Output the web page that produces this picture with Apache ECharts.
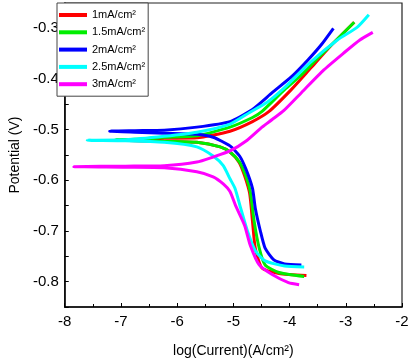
<!DOCTYPE html>
<html>
<head>
<meta charset="utf-8">
<script src="https://cdn.jsdelivr.net/npm/echarts@6/dist/echarts.min.js"></script>
<style>
html, body { margin: 0; padding: 0; background: #fff; }
#chart { width: 412px; height: 363px; }
</style>
</head>
<body>
<div id="chart"></div>
<script>
// legend names
var seriesNames = ['1mA/cm²', '1.5mA/cm²', '2mA/cm²', '2.5mA/cm²', '3mA/cm²'];
var seriesColors = ['#ff0000', '#00ee00', '#0000ff', '#00ffff', '#ff00ff'];

// [log(i), E] pairs, cathodic end -> tip -> anodic end
var curve1 = [
  [-3.70,-0.788],[-4.19,-0.784],[-4.49,-0.773],[-4.61,-0.734],[-4.66,-0.681],[-4.71,-0.626],
  [-4.80,-0.591],[-4.90,-0.564],[-5.06,-0.544],[-5.235,-0.534],[-5.65,-0.525],[-6.23,-0.523],
  [-6.9,-0.521],
  [-6.23,-0.517],[-5.65,-0.516],[-5.06,-0.503],[-4.66,-0.484],[-4.365,-0.464],
  [-3.97,-0.421],[-3.62,-0.378],[-3.27,-0.335],[-2.85,-0.288]
];
var curve15 = [
  [-3.74,-0.790],[-4.19,-0.782],[-4.435,-0.767],[-4.54,-0.734],[-4.63,-0.681],[-4.70,-0.622],
  [-4.78,-0.591],[-4.89,-0.564],[-5.06,-0.544],[-5.235,-0.534],[-5.65,-0.525],[-6.23,-0.523],
  [-6.75,-0.521],[-7.1,-0.520],
  [-6.75,-0.519],[-6.23,-0.515],[-5.65,-0.512],[-5.06,-0.495],[-4.66,-0.476],[-4.49,-0.464],
  [-4.09,-0.421],[-3.79,-0.392],[-3.50,-0.359],[-3.15,-0.321],[-2.85,-0.288]
];
var curve2 = [
  [-3.79,-0.767],[-4.09,-0.765],[-4.28,-0.757],[-4.435,-0.734],[-4.52,-0.700],[-4.61,-0.655],
  [-4.66,-0.616],[-4.78,-0.577],[-4.89,-0.552],[-5.06,-0.532],[-5.36,-0.515],[-5.65,-0.509],
  [-6.23,-0.507],[-6.75,-0.505],[-7.2,-0.503],
  [-6.75,-0.502],[-6.23,-0.501],[-5.65,-0.495],[-5.06,-0.484],[-4.66,-0.460],
  [-4.31,-0.427],[-3.97,-0.396],[-3.67,-0.362],[-3.44,-0.333],[-3.22,-0.300]
];
var curve25 = [
  [-3.74,-0.771],[-4.09,-0.769],[-4.435,-0.759],[-4.61,-0.739],[-4.75,-0.700],[-4.87,-0.655],
  [-4.97,-0.616],[-5.06,-0.597],[-5.18,-0.571],[-5.36,-0.552],[-5.65,-0.534],[-6.23,-0.525],
  [-6.92,-0.522],[-7.6,-0.521],
  [-6.92,-0.520],[-6.23,-0.513],[-5.65,-0.505],[-5.06,-0.489],[-4.71,-0.466],[-4.40,-0.446],
  [-4.09,-0.417],[-3.62,-0.366],[-3.15,-0.323],[-2.80,-0.298],[-2.59,-0.273]
];
var curve3 = [
  [-3.83,-0.806],[-4.02,-0.802],[-4.31,-0.786],[-4.54,-0.767],[-4.70,-0.728],[-4.80,-0.689],
  [-4.96,-0.650],[-5.06,-0.622],[-5.18,-0.607],[-5.36,-0.593],[-5.65,-0.583],[-6.23,-0.575],
  [-6.92,-0.574],[-7.84,-0.573],
  [-6.92,-0.572],[-6.23,-0.571],[-5.65,-0.564],[-5.36,-0.554],[-5.06,-0.542],[-4.78,-0.523],
  [-4.49,-0.495],[-4.31,-0.480],[-4.10,-0.462],[-3.79,-0.427],[-3.39,-0.382],[-3.04,-0.349],
  [-2.75,-0.323],[-2.52,-0.308]
];
var curves = [curve1, curve15, curve2, curve25, curve3];

var font = 'Liberation Sans, Arial, sans-serif';
var myChart = echarts.init(document.getElementById('chart'));

var option = {
  animation: false,
  backgroundColor: '#fff',
  grid: {
    left: 57, right: 10, top: 3, bottom: 54,
    show: true, borderColor: '#222', borderWidth: 1.2
  },
  legend: {
    orient: 'vertical',
    left: 57, top: 3,
    padding: [5, 3, 5, 2],
    itemWidth: 28, itemHeight: 4, itemGap: 3.3, itemTextGap: 2,
    icon: 'rect',
    borderColor: '#444', borderWidth: 1,
    backgroundColor: '#fff',
    textStyle: { fontFamily: font, fontSize: 11, color: '#000', lineHeight: 14 },
    data: seriesNames
  },
  xAxis: {
    type: 'value',
    min: -8, max: -2, interval: 1,
    name: 'log(Current)(A/cm²)',
    nameLocation: 'middle', nameGap: 37,
    nameTextStyle: { fontFamily: font, fontSize: 14, color: '#000' },
    axisLine: { show: true, onZero: false, lineStyle: { color: '#000', width: 1.5 } },
    axisTick: { show: true, inside: true, length: 4, lineStyle: { color: '#000' } },
    minorTick: { show: true, splitNumber: 2, length: 3, lineStyle: { color: '#000' } },
    axisLabel: { fontFamily: font, fontSize: 15, color: '#000', margin: 7 },
    splitLine: { show: false }
  },
  yAxis: {
    type: 'value',
    min: -0.85, max: -0.25, interval: 0.05,
    name: 'Potential (V)',
    nameLocation: 'middle', nameGap: 42,
    nameTextStyle: { fontFamily: font, fontSize: 14, color: '#000' },
    axisLine: { show: true, onZero: false, lineStyle: { color: '#000', width: 1.5 } },
    axisTick: { show: true, inside: true, length: 4, lineStyle: { color: '#000' } },
    axisLabel: {
      fontFamily: font, fontSize: 15, color: '#000', margin: 6,
      formatter: function (v) {
        var k = Math.round(v * 100);
        return k % 10 === 0 ? (k / 100).toFixed(1) : '';
      }
    },
    splitLine: { show: false }
  },
  series: curves.map(function (d, i) {
    return {
      name: seriesNames[i],
      type: 'line',
      data: d,
      showSymbol: false,
      smooth: 0.2,
      color: seriesColors[i],
      lineStyle: { width: 3, color: seriesColors[i] }
    };
  })
};

myChart.setOption(option);
window.addEventListener('resize', function () { myChart.resize(); });
</script>
</body>
</html>
